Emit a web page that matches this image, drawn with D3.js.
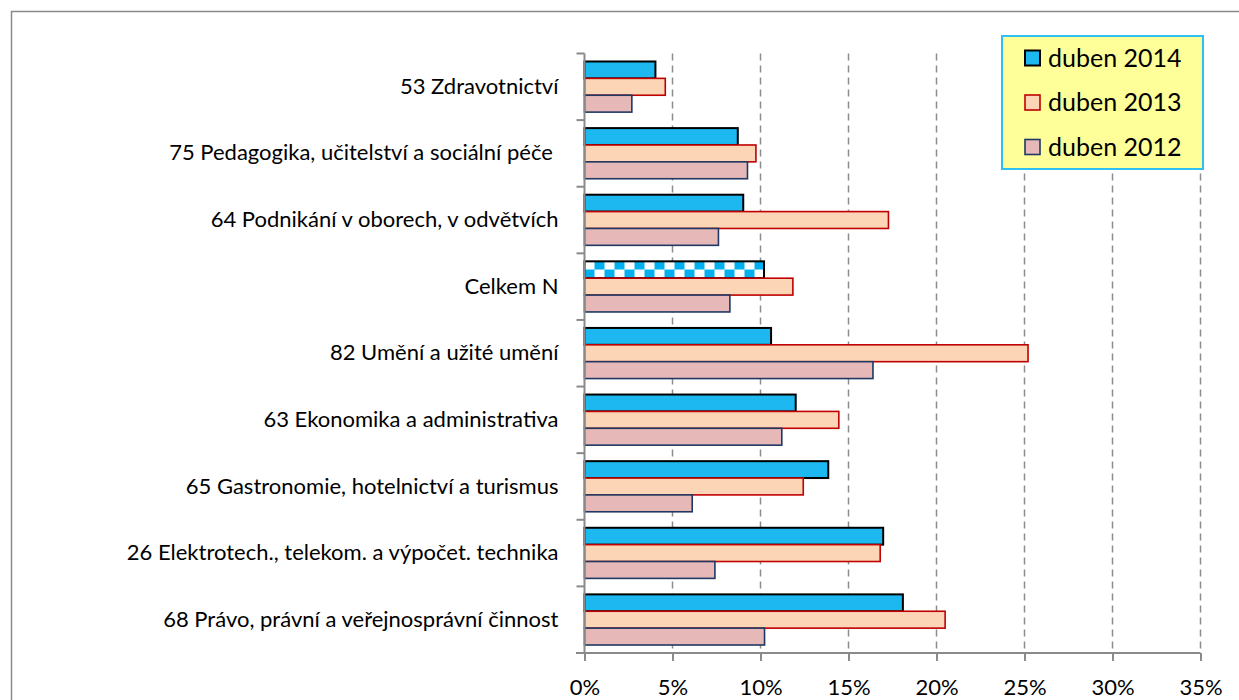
<!DOCTYPE html>
<html>
<head>
<meta charset="utf-8">
<script src="https://cdn.jsdelivr.net/npm/d3@7"></script>
<style>
body{margin:0;background:#fff;}
svg text{font-family:Lato,"Open Sans",sans-serif;}
</style>
</head>
<body>
<svg id="chart" width="1239" height="700"></svg>
<script>
// categories top -> bottom
const categories=[
    "53 Zdravotnictví",
    "75 Pedagogika, učitelství a sociální péče ",
    "64 Podnikání v oborech, v odvětvích",
    "Celkem N",
    "82 Umění a užité umění",
    "63 Ekonomika a administrativa",
    "65 Gastronomie, hotelnictví a turismus",
    "26 Elektrotech., telekom. a výpočet. technika",
    "68 Právo, právní a veřejnosprávní činnost"
];
const series=["duben 2014","duben 2013","duben 2012"];
const v2014=[4.03,8.71,9.02,10.2,10.6,12.0,13.85,16.97,18.09];
const v2013=[4.59,9.74,17.27,11.84,25.2,14.45,12.43,16.8,20.49];
const v2012=[2.69,9.26,7.61,8.26,16.39,11.21,6.12,7.41,10.23];
const xTicks=[0,5,10,15,20,25,30,35];

const values={"duben 2014":v2014,"duben 2013":v2013,"duben 2012":v2012};
const fills={"duben 2014":"#1DB8EF","duben 2013":"#FBD5B5","duben 2012":"#E6B9B8"};
const strokes={"duben 2014":"#000","duben 2013":"#C00000","duben 2012":"#1F3864"};

const svg=d3.select("#chart");

// outer frame
svg.append("rect")
    .attr("x",11.5).attr("y",11.5)
    .attr("width",1400).attr("height",900)
    .attr("fill","#fff").attr("stroke","#8a8a8a").attr("stroke-width",1.5);

const x=d3.scaleLinear().domain([0,35]).range([584.5,1200.5]);
const y=d3.scaleBand()
    .domain(categories)
    .range([53.5,653])
    .paddingInner(0.24)
    .paddingOuter(0.12);
const y1=d3.scaleBand().domain(series).range([0,y.bandwidth()]);

// checkerboard pattern for Celkem N
const defs=svg.append("defs");
const pat=defs.append("pattern")
    .attr("id","checks")
    .attr("patternUnits","userSpaceOnUse")
    .attr("width",20).attr("height",y1.bandwidth())
    .attr("x",x(0)).attr("y",y("Celkem N")+y1("duben 2014"));
pat.append("rect").attr("width",20).attr("height",y1.bandwidth()).attr("fill","#fff");
pat.append("rect").attr("x",0).attr("y",0).attr("width",10).attr("height",y1.bandwidth()/2).attr("fill","#00B0F0");
pat.append("rect").attr("x",10).attr("y",y1.bandwidth()/2).attr("width",10).attr("height",y1.bandwidth()/2).attr("fill","#00B0F0");

// gridlines
svg.append("g")
    .selectAll("line")
    .data(xTicks.slice(1))
    .enter()
    .append("line")
    .attr("x1",d=>x(d)).attr("x2",d=>x(d))
    .attr("y1",53.5).attr("y2",653)
    .attr("stroke","#8c8c8c")
    .attr("stroke-width",1.5)
    .attr("stroke-dasharray","7,5");

// bars
const groups=svg.append("g")
    .selectAll("g")
    .data(categories)
    .enter()
    .append("g")
    .attr("transform",d=>`translate(0,${y(d)})`);

groups.selectAll("rect")
    .data((c,i)=>series.map(s=>({cat:c,s:s,v:values[s][i]})))
    .enter()
    .append("rect")
    .attr("x",x(0))
    .attr("y",d=>y1(d.s))
    .attr("width",d=>x(d.v)-x(0))
    .attr("height",y1.bandwidth())
    .attr("fill",d=>(d.cat==="Celkem N"&&d.s==="duben 2014")?"url(#checks)":fills[d.s])
    .attr("stroke",d=>strokes[d.s])
    .attr("stroke-width",d=>d.s==="duben 2014"?2:1.6);

// bottom axis
const xAxis=svg.append("g")
    .attr("transform","translate(0,653)")
    .call(d3.axisBottom(x).tickValues(xTicks).tickFormat(d=>d+"%").tickSize(8).tickPadding(18));
xAxis.select(".domain").attr("stroke","#8a8a8a").attr("stroke-width",2).attr("d","M576,0H1200.5");
xAxis.selectAll(".tick line").attr("stroke","#8a8a8a").attr("stroke-width",2);
xAxis.selectAll("text").attr("font-size",22).attr("fill","#000");

// left axis
const yAxis=svg.append("g")
    .attr("transform",`translate(${x(0)},0)`)
    .call(d3.axisLeft(y).tickSize(0).tickPadding(26));
yAxis.select(".domain").attr("stroke","#8a8a8a").attr("stroke-width",2).attr("d","M0,53.5V653");
yAxis.selectAll("text")
    .attr("font-size",22)
    .attr("fill","#000")
    .style("white-space","pre");

// category separators on left axis
const half=y.step()*y.paddingInner()/2;
yAxis.selectAll(".sep")
    .data(categories)
    .enter()
    .append("line")
    .attr("class","sep")
    .attr("x1",-8).attr("x2",0)
    .attr("y1",d=>y(d)-half).attr("y2",d=>y(d)-half)
    .attr("stroke","#8a8a8a").attr("stroke-width",2);

// legend
const lg=svg.append("g");
lg.append("rect")
    .attr("x",1002).attr("y",36)
    .attr("width",201).attr("height",133)
    .attr("fill","#FFFF99").attr("stroke","#2EC0F2").attr("stroke-width",2);
const item=lg.selectAll(".item")
    .data(series)
    .enter()
    .append("g")
    .attr("class","item")
    .attr("transform",(d,i)=>`translate(1025,${58+i*44.5})`);
item.append("rect")
    .attr("x",0).attr("y",-7.5)
    .attr("width",15).attr("height",15)
    .attr("fill",d=>fills[d])
    .attr("stroke",d=>strokes[d])
    .attr("stroke-width",d=>d==="duben 2014"?2:1.6);
item.append("text")
    .attr("x",23).attr("dy","0.35em")
    .attr("font-size",25)
    .text(d=>d);
</script>
</body>
</html>
